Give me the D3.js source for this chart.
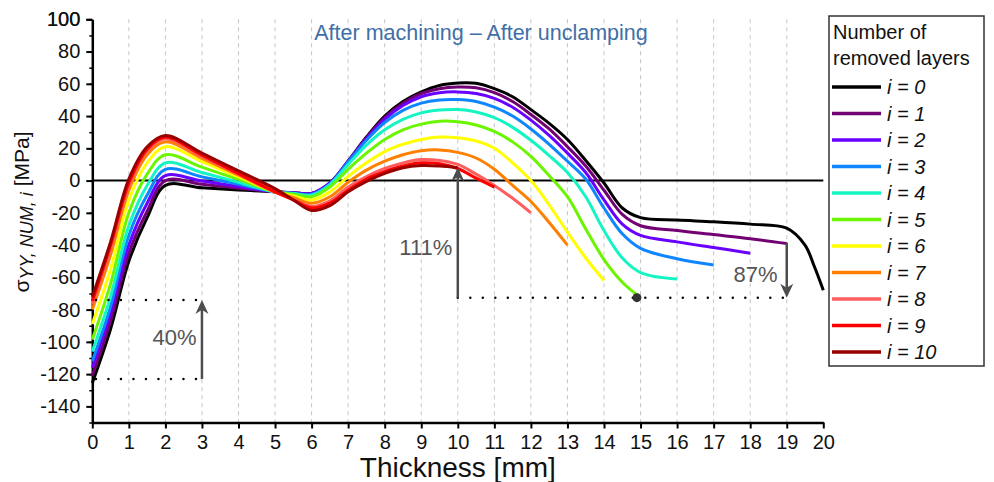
<!DOCTYPE html>
<html>
<head>
<meta charset="utf-8">
<script src="https://cdn.jsdelivr.net/npm/d3@7"></script>
<style>
    body { margin: 0; background: #ffffff; }
    svg { display: block; font-family: "Liberation Sans", Arial, sans-serif; }
</style>
</head>
<body>
<div id="chart"></div>
<script>

// Thickness positions (mm), shared by every curve (each curve stops where its data stops)
var thickness = [0, 0.5, 1, 1.5, 2, 3, 4, 5, 5.5, 6, 6.5, 7, 7.5, 8, 8.5, 9, 9.5, 10, 10.5, 11,
    11.5, 12, 12.5, 13, 13.5, 14, 14.5, 15, 16, 17, 18, 19, 19.5, 19.75, 20];

// Stress sigma_YY (MPa) for each number of removed layers
var stress_i0 = [-125.5, -92, -50, -23, -3, -4.5, -5.8, -7, -7.5, -8, -2, 12, 27, 40, 49, 55, 59, 60.5, 60.3, 57,
    52, 44, 35.5, 25.5, 12.5, -1.5, -17, -23, -24.5, -25.5, -27, -29.5, -40, -53, -68];
var stress_i1 = [-121, -87, -45, -19, 0, -2.3, -4.7, -7, -7.5, -8, -1.5, 12, 26.5, 39, 48, 54, 57, 58, 57.5, 54.5,
    49, 41, 32, 21, 9, -6, -21, -28, -31, -33.5, -36, -39];
var stress_i2 = [-116, -82, -40, -14, 3, -0.3, -3.7, -7, -7.5, -8, -1.5, 12, 26, 38, 46.5, 52, 54.5, 55, 54, 51,
    45.5, 37.5, 28, 17, 5, -12, -27, -34, -38, -41.5, -45];
var stress_i3 = [-112, -78, -34, -9, 7, 2.3, -2.3, -7, -7.8, -8.5, -2, 11.5, 25, 36, 43.5, 48, 50, 50.2, 49, 45.5,
    40, 32, 22.5, 12, 1, -17, -33, -42, -48.5, -52.3];
var stress_i4 = [-106, -72, -28, -3, 11, 5, -1, -7, -8, -9, -2.5, 10, 22, 31.5, 38, 42, 43.7, 44, 42.5, 39,
    33, 25, 15.5, 5, -10, -31, -48, -57, -61];
var stress_i5 = [-98.5, -64, -20, 4, 16, 8.3, 0.7, -7, -8.5, -10, -4, 7, 17, 25.5, 31.5, 35, 36.8, 36.5, 34.5, 30.5,
    24, 15, 3, -10, -30, -49, -63, -72.5];
var stress_i6 = [-89, -55, -12, 11, 21, 11.7, 2.3, -7, -9.5, -12, -7, 2.5, 11, 18, 22.5, 25.5, 27, 26.5, 24.5, 20,
    11, 0, -15, -32, -48, -62];
var stress_i7 = [-80, -46, -6, 16, 24, 13.7, 3.3, -7, -10.5, -14, -10, -1, 6.5, 12, 16, 18.5, 19, 17.5, 14, 7,
    -3, -13, -26, -40];
var stress_i8 = [-76.7, -42, -3, 18.5, 26, 15, 4, -7, -11.5, -16, -12.5, -4, 2.5, 7.5, 11, 13, 12.5, 10, 4, -3,
    -11, -20];
var stress_i9 = [-74.7, -40, -1.5, 19.5, 27, 15.7, 4.3, -7, -12, -17, -14, -6, 1, 5.5, 9, 11, 10.5, 7.5, 1.5, -4];
var stress_i10 = [-72, -38, 1, 21, 28, 17, 6, -5, -12, -18.5, -15.5, -7, -0.5, 4.5, 8, 9.3, 9, 8];

var layerLabels = ["i = 0", "i = 1", "i = 2", "i = 3", "i = 4", "i = 5", "i = 6", "i = 7", "i = 8", "i = 9", "i = 10"];
var layerColors = ["#000000", "#730073", "#6a00ff", "#0d86ff", "#14f5c3", "#6cf500", "#ffff00",
    "#ff8000", "#ff5e5e", "#ff0000", "#990000"];

var xTicks = d3.range(0, 21, 1);
var yTicks = d3.range(-140, 101, 20);
var yMinorTicks = d3.range(-150, 101, 10);

// Annotation values: [x from, x to, stress]
var dottedLines = [[0.1, 3, -74], [0.1, 2.9, -123], [10, 19.15, -72.6]];
// Arrows: [x, stress at tail, stress at tip]
var arrows = [[3, -123, -74], [10, -72.6, 8.3], [19, -38.5, -72.6]];
var arrowLabels = ["40%", "111%", "87%"];
var arrowLabelPos = [[2.85, -102], [9.85, -46], [18.75, -63]];
var endDot = [14.9, -72.6];

var allStress = [stress_i0, stress_i1, stress_i2, stress_i3, stress_i4, stress_i5,
    stress_i6, stress_i7, stress_i8, stress_i9, stress_i10];

var fullWidth = 994, fullHeight = 482;

var svg = d3.select("#chart")
    .append("svg")
    .attr("width", fullWidth)
    .attr("height", fullHeight);

// Scales
var xScale = d3.scaleLinear().domain([0, 20]).range([92.3, 823.3]);
var yScale = d3.scaleLinear().domain([-150, 100]).range([422.5, 19.3]);

// plain hyphen for negative labels, like the original
var plainFormat = function (d) { return String(d); };

/**
 * GRID + ZERO LINE
 */
svg.append("g")
    .selectAll("line")
    .data(xTicks.filter(function (d) { return d > 0 && d < 20; }))
    .enter()
    .append("line")
    .attr("x1", function (d) { return xScale(d); })
    .attr("x2", function (d) { return xScale(d); })
    .attr("y1", yScale(100))
    .attr("y2", yScale(-150))
    .attr("stroke", "#c4c4c4")
    .attr("stroke-width", 1)
    .attr("stroke-dasharray", "4,4");

svg.append("line")
    .attr("x1", xScale(0))
    .attr("x2", xScale(20))
    .attr("y1", yScale(0))
    .attr("y2", yScale(0))
    .attr("stroke", "#000")
    .attr("stroke-width", 2);

/**
 * AXES
 */
var yMinor = svg.append("g")
    .attr("transform", "translate(" + xScale(0) + ",0)")
    .call(d3.axisLeft(yScale).tickValues(yMinorTicks).tickSize(3).tickSizeOuter(0).tickFormat(""));
yMinor.selectAll("line").attr("stroke-width", 1.5);
yMinor.select(".domain").remove();

var yAxis = svg.append("g")
    .attr("transform", "translate(" + xScale(0) + ",0)")
    .call(d3.axisLeft(yScale).tickValues(yTicks.concat([100])).tickFormat(plainFormat)
        .tickSize(6).tickPadding(6).tickSizeOuter(0));
yAxis.select(".domain").attr("stroke-width", 2.5);
yAxis.selectAll("line").attr("stroke-width", 2);
yAxis.selectAll("text")
    .style("font-size", "20px")
    .style("font-family", "'Liberation Sans', Arial, sans-serif")
    .attr("fill", "#111");

var xAxis = svg.append("g")
    .attr("transform", "translate(0," + yScale(-150) + ")")
    .call(d3.axisBottom(xScale).tickValues(xTicks).tickFormat(plainFormat)
        .tickSize(6).tickPadding(6.5).tickSizeOuter(0));
xAxis.select(".domain").attr("stroke-width", 2.5);
xAxis.selectAll("line").attr("stroke-width", 2);
xAxis.selectAll("text")
    .style("font-size", "20px")
    .style("font-family", "'Liberation Sans', Arial, sans-serif")
    .attr("fill", "#111");

// Axis titles
svg.append("text")
    .attr("x", xScale(10))
    .attr("y", 477)
    .attr("text-anchor", "middle")
    .style("font-size", "28px")
    .attr("fill", "#111")
    .text("Thickness [mm]");

var yTitle = svg.append("text")
    .attr("transform", "translate(29,212)rotate(-90)")
    .attr("text-anchor", "middle")
    .style("font-size", "21px")
    .attr("fill", "#111");
yTitle.append("tspan").text("σ");
yTitle.append("tspan")
    .attr("dy", 4)
    .style("font-style", "italic")
    .style("font-size", "18px")
    .text("YY, NUM, i");
yTitle.append("tspan")
    .attr("dy", -4)
    .text(" [MPa]");

// Plot title
svg.append("text")
    .attr("x", 481)
    .attr("y", 40)
    .attr("text-anchor", "middle")
    .style("font-size", "21.5px")
    .attr("fill", "#3f6fa6")
    .text("After machining \u2013 After unclamping");

/**
 * CURVES
 */
var line = d3.line()
    .x(function (d) { return xScale(d[0]); })
    .y(function (d) { return yScale(d[1]); })
    .curve(d3.curveCatmullRom.alpha(0.5));

allStress.forEach(function (series, i) {
    var pts = series.map(function (v, k) { return [thickness[k], v]; });
    svg.append("path")
        .datum(pts)
        .attr("d", line)
        .attr("fill", "none")
        .attr("stroke", layerColors[i])
        .attr("stroke-width", 3);
});

/**
 * ANNOTATIONS
 */
svg.append("g")
    .selectAll("line")
    .data(dottedLines)
    .enter()
    .append("line")
    .attr("x1", function (d) { return xScale(d[0]); })
    .attr("x2", function (d) { return xScale(d[1]); })
    .attr("y1", function (d) { return yScale(d[2]); })
    .attr("y2", function (d) { return yScale(d[2]); })
    .attr("stroke", "#000")
    .attr("stroke-width", 2.5)
    .attr("stroke-linecap", "round")
    .attr("stroke-dasharray", "0,12.5");

var arrowColor = "#4d4d4d";
arrows.forEach(function (a, i) {
    var x = xScale(a[0]), yTail = yScale(a[1]), yTip = yScale(a[2]);
    var dir = yTip < yTail ? 1 : -1; // 1 = pointing up
    var headLen = 14, headHalf = 6.5;
    svg.append("line")
        .attr("x1", x).attr("x2", x)
        .attr("y1", yTail)
        .attr("y2", yTip + dir * headLen * 0.6)
        .attr("stroke", arrowColor)
        .attr("stroke-width", 2.5);
    svg.append("path")
        .attr("d", "M" + x + "," + yTip +
            "L" + (x - headHalf) + "," + (yTip + dir * headLen) +
            "L" + x + "," + (yTip + dir * headLen * 0.7) +
            "L" + (x + headHalf) + "," + (yTip + dir * headLen) + "Z")
        .attr("fill", arrowColor);
    svg.append("text")
        .attr("x", xScale(arrowLabelPos[i][0]))
        .attr("y", yScale(arrowLabelPos[i][1]))
        .attr("text-anchor", "end")
        .style("font-size", "22px")
        .attr("fill", "#555")
        .text(arrowLabels[i]);
});

svg.append("circle")
    .attr("cx", xScale(endDot[0]))
    .attr("cy", yScale(endDot[1]))
    .attr("r", 4.5)
    .attr("fill", "#333");

/**
 * LEGEND
 */
var legend = svg.append("g");
legend.append("rect")
    .attr("x", 829)
    .attr("y", 16)
    .attr("width", 155)
    .attr("height", 350)
    .attr("fill", "#fff")
    .attr("stroke", "#333")
    .attr("stroke-width", 1.5);

legend.append("text")
    .attr("x", 833)
    .attr("y", 39)
    .style("font-size", "20px")
    .attr("fill", "#111")
    .text("Number of");
legend.append("text")
    .attr("x", 833)
    .attr("y", 65)
    .style("font-size", "20px")
    .attr("fill", "#111")
    .text("removed layers");

var entries = legend.selectAll(".entry")
    .data(layerLabels)
    .enter()
    .append("g")
    .attr("class", "entry")
    .attr("transform", function (d, i) { return "translate(0," + (87 + 26.5 * i) + ")"; });

entries.append("line")
    .attr("x1", 832)
    .attr("x2", 881)
    .attr("stroke", function (d, i) { return layerColors[i]; })
    .attr("stroke-width", 3.5);

entries.append("text")
    .attr("x", 887)
    .attr("y", 7)
    .style("font-size", "20px")
    .style("font-style", "italic")
    .attr("fill", "#111")
    .text(function (d) { return d; });

</script>
</body>
</html>
